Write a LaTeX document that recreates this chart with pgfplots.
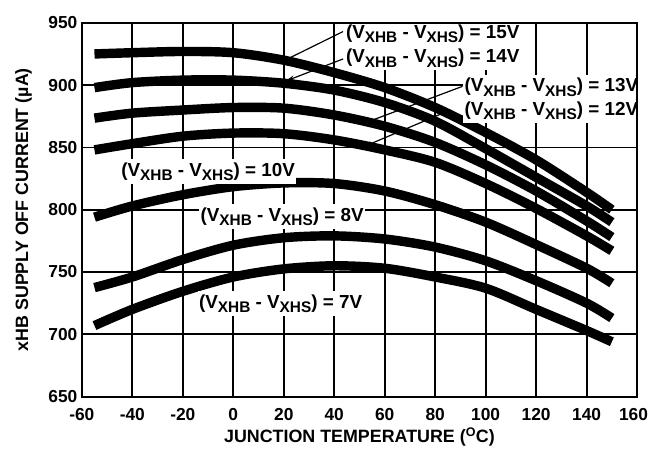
\documentclass[border=0pt]{standalone}
\usepackage{pgfplots}
\pgfplotsset{compat=1.18}
\usepackage{fontspec}
\setmainfont{Liberation Sans}
\usetikzlibrary{arrows.meta}
\begin{document}
\newcommand{\sub}[1]{\raisebox{-4.5pt}{\fontsize{15.5}{16}\selectfont #1}}
\newcommand{\lab}[1]{(V\sub{XHB} - V\sub{XHS}) = #1}
\begin{tikzpicture}
\begin{axis}[
  scale only axis, width=560pt, height=377pt,
  xmin=-60, xmax=160, ymin=650, ymax=950,
  xtick={-60,-40,...,160}, ytick={650,700,...,950},
  xticklabels={-60,-40,-20,0,20,40,60,80,100,120,140,\makebox[22pt][r]{160}},
  grid=major, major grid style={black, line width=1.8pt},
  axis line style={black, line width=1.8pt},
  major tick length=0pt,
  /pgf/number format/assume math mode=true,
  tick label style={font=\fontsize{17.5}{20}\selectfont\bfseries},
  xticklabel style={yshift=-8pt},
  yticklabel style={xshift=-1pt},
  xlabel={JUNCTION TEMPERATURE (\textsuperscript{O}C)},
  ylabel={xHB SUPPLY OFF CURRENT (µA)},
  label style={font=\fontsize{18}{20}\selectfont\bfseries},
  xlabel style={at={(axis description cs:0.5,-0.109)}, anchor=center},
  ylabel style={at={(axis description cs:-0.105,0.5)}, anchor=center},
  curve/.style={black, line width=9.5pt, smooth, tension=0.5, line cap=butt, no marks},
  clip=false,
]
\addplot[curve] coordinates {(-55,925) (-40,926) (-20,927) (0,926) (20,920) (40,910) (60,898) (80,882) (100,862) (120,840) (140,814) (150,800)};
\addplot[curve] coordinates {(-55,898) (-40,902) (-20,904) (0,904) (20,901.5) (40,896) (60,886) (80,871) (100,849) (120,826) (140,803) (150,790)};
\addplot[curve] coordinates {(-55,873.5) (-40,877.5) (-20,880) (0,882) (20,881.5) (40,876) (60,867) (80,854) (100,836) (120,815) (140,791) (150,778)};
\addplot[curve] coordinates {(-55,848) (-40,853) (-20,859) (0,861.5) (20,861) (40,856) (60,848) (80,838) (100,821) (120,801) (140,779) (150,767)};
\addplot[curve] coordinates {(-55,794) (-40,803) (-20,812) (0,818.5) (20,821.5) (40,821) (60,815) (80,804) (100,790) (120,772) (140,753) (150,741)};
\addplot[curve] coordinates {(-55,737.5) (-40,746) (-20,760) (0,771.5) (20,777.5) (40,779) (60,776.5) (80,770) (100,759) (120,743) (140,725) (150,713)};
\addplot[curve] coordinates {(-55,707) (-40,720) (-20,734.5) (0,746) (20,752.5) (40,755) (60,753) (80,746) (100,737) (120,720) (140,703) (150,694)};
\coordinate (l15) at (axis cs:44,937.5);
\coordinate (l14) at (axis cs:44,918);
\coordinate (l13) at (axis cs:91,894.8);
\coordinate (l12) at (axis cs:91,876);
\coordinate (l10) at (axis cs:-45,826.8);
\coordinate (l8) at (axis cs:-13.6,790.8);
\coordinate (l7) at (axis cs:-14.2,720.9);
\coordinate (a15s) at (axis cs:43.5,943);
\coordinate (a15e) at (axis cs:18.5,918);
\coordinate (a14s) at (axis cs:43.5,921);
\coordinate (a14e) at (axis cs:20.5,903);
\coordinate (a13s) at (axis cs:90.8,899);
\coordinate (a13e) at (axis cs:50,868);
\coordinate (a12s) at (axis cs:86,880);
\coordinate (a12e) at (axis cs:51,850);
\coordinate (tl) at (axis cs:-60,950);
\coordinate (tr) at (axis cs:160,950);
\coordinate (br) at (axis cs:160,650);
\end{axis}
\begin{scope}[every node/.style={fill=white, inner xsep=1.5pt, inner ysep=3.2pt, anchor=base west, font=\fontsize{19}{21}\selectfont\bfseries}]
\node at (l15) {\lab{15V}};
\node at (l14) {\lab{14V}};
\node at (l13) {\lab{13V}};
\node at (l12) {\lab{12V}};
\node at (l10) {\lab{10V}};
\node at (l8) {\lab{8V}};
\node at (l7) {\lab{7V}};
\end{scope}
\draw[line width=1.8pt, line cap=rect] (tl) -- (tr) -- (br);
\begin{scope}[line width=1.2pt, -{Stealth[length=10pt,width=5pt]}]
\draw (a15s) -- (a15e);
\draw (a14s) -- (a14e);
\draw (a13s) -- (a13e);
\draw (a12s) -- (a12e);
\end{scope}
\pgfresetboundingbox
\path (-77pt,-53pt) rectangle (572pt,400pt);
\end{tikzpicture}
\end{document}
